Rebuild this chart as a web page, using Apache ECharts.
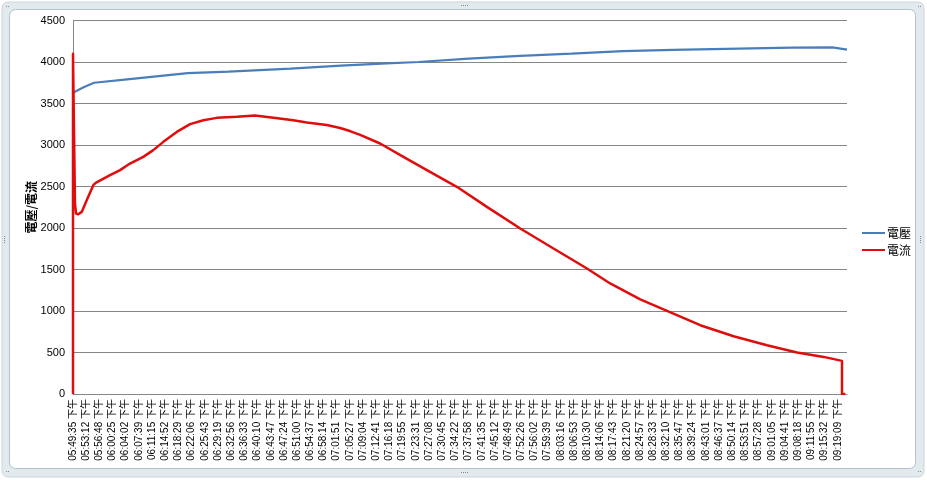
<!DOCTYPE html>
<html>
<head>
<meta charset="utf-8">
<script src="https://cdn.jsdelivr.net/npm/echarts@6/dist/echarts.min.js"></script>
<style>
html,body{margin:0;padding:0;background:#fff;}
#chart{width:927px;height:480px;}
</style>
</head>
<body>
<div id="chart"></div>
<script>
// Category tick labels (every labelled sample)
const timeLabels = [
  '05:49:35 下午','05:53:12 下午','05:56:48 下午','06:00:25 下午','06:04:02 下午','06:07:39 下午',
  '06:11:15 下午','06:14:52 下午','06:18:29 下午','06:22:06 下午','06:25:43 下午','06:29:19 下午',
  '06:32:56 下午','06:36:33 下午','06:40:10 下午','06:43:47 下午','06:47:24 下午','06:51:00 下午',
  '06:54:37 下午','06:58:14 下午','07:01:51 下午','07:05:27 下午','07:09:04 下午','07:12:41 下午',
  '07:16:18 下午','07:19:55 下午','07:23:31 下午','07:27:08 下午','07:30:45 下午','07:34:22 下午',
  '07:37:58 下午','07:41:35 下午','07:45:12 下午','07:48:49 下午','07:52:26 下午','07:56:02 下午',
  '07:59:39 下午','08:03:16 下午','08:06:53 下午','08:10:30 下午','08:14:06 下午','08:17:43 下午',
  '08:21:20 下午','08:24:57 下午','08:28:33 下午','08:32:10 下午','08:35:47 下午','08:39:24 下午',
  '08:43:01 下午','08:46:37 下午','08:50:14 下午','08:53:51 下午','08:57:28 下午','09:01:05 下午',
  '09:04:41 下午','09:08:18 下午','09:11:55 下午','09:15:32 下午','09:19:09 下午'
];

// 電壓 (voltage): position in label units, value
const voltagePos  = [0, 0.8, 1.6, 4.1, 8.7, 11.8, 16.5, 20.3, 23.4, 26.2, 30.0, 33.9, 37.8, 41.7, 45.5, 49.5, 54.5, 57.6, 58.7];
const voltageVals = [3630, 3695, 3750, 3790, 3865, 3885, 3920, 3955, 3980, 4000, 4040, 4075, 4100, 4130, 4145, 4158, 4172, 4175, 4150];

// 電流 (current): position in label units, value
const currentPos  = [0, 0, 0.15, 0.23, 0.4, 0.66, 1.04, 1.54, 1.72, 2.81, 3.57, 4.32, 5.33, 6.09, 6.85, 7.87, 8.88, 9.89, 10.9, 12.42, 13.81, 15.2, 16.71, 17.73, 19.25, 20.26, 21.0, 21.78, 23.29, 25.06, 26.84, 29.11, 31.39, 33.92, 36.44, 38.98, 40.74, 43.02, 45.05, 47.57, 50.1, 52.63, 54.91, 56.93, 58.32, 58.32, 58.57];
const currentVals = [0, 4100, 2295, 2175, 2166, 2194, 2335, 2516, 2544, 2636, 2697, 2777, 2857, 2938, 3038, 3158, 3251, 3299, 3327, 3339, 3356, 3327, 3299, 3272, 3240, 3205, 3168, 3122, 3018, 2857, 2697, 2496, 2255, 1994, 1753, 1512, 1332, 1139, 1001, 829, 696, 588, 500, 447, 399, 0, 0];

const seriesNames = ['電壓', '電流'];
const yTicks = { min: 0, max: 4500, step: 500 };

const pair = (xs, ys) => xs.map((x, i) => [x, ys[i]]);

const chart = echarts.init(document.getElementById('chart'), null, { renderer: 'canvas' });

const frameGraphics = [
  { type: 'rect', z: -10, shape: { x: 2, y: 2, width: 922, height: 475, r: 6 },
    style: { fill: '#e2eaee', stroke: '#c9d5dc', lineWidth: 1 } },
  { type: 'rect', z: -9, shape: { x: 9.5, y: 9.5, width: 906, height: 459, r: 6 },
    style: { fill: '#ffffff', stroke: '#b3c3cd', lineWidth: 1 } }
];
// small grip dots
const grips = [[461, 5, 'h'], [461, 472, 'h'], [4, 236, 'v'], [920, 236, 'v'], [6, 6, 'c'], [918, 6, 'c'], [918, 471, 'c'], [6, 471, 'c']];
grips.forEach(g => {
  const n = g[2] === 'c' ? 2 : 4;
  for (let i = 0; i < n; i++) {
    const dx = g[2] === 'v' ? 0 : i * 2;
    const dy = g[2] === 'v' ? i * 2 : 0;
    frameGraphics.push({ type: 'rect', z: -8, shape: { x: g[0] + dx, y: g[1] + dy, width: 1, height: 1 }, style: { fill: '#7f8d96' } });
  }
});

const option = {
  animation: false,
  backgroundColor: '#ffffff',
  graphic: frameGraphics,
  grid: { left: 73, right: 80, top: 20.5, bottom: 86, containLabel: false },
  legend: {
    orient: 'vertical',
    left: 857,
    top: 222,
    itemWidth: 23,
    itemHeight: 12,
    itemGap: 5,
    icon: 'path://M0,5 L23,5 L23,7 L0,7 Z',
    textStyle: { fontFamily: 'Noto Sans CJK TC', fontSize: 12, color: '#000', padding: [0, 0, 0, -3] },
    data: seriesNames
  },
  xAxis: {
    type: 'value',
    min: 0,
    max: 58.7,
    interval: 1,
    axisLine: { show: true, lineStyle: { color: '#868686', width: 1 } },
    axisTick: { show: false },
    splitLine: { show: false },
    axisLabel: {
      rotate: 90,
      margin: 5,
      fontFamily: 'Liberation Sans, "Noto Sans CJK TC"',
      fontSize: 10,
      color: '#000',
      showMaxLabel: false,
      formatter: v => (Number.isInteger(v) && timeLabels[v]) ? timeLabels[v] : ''
    }
  },
  yAxis: {
    type: 'value',
    min: yTicks.min,
    max: yTicks.max,
    interval: yTicks.step,
    name: '電壓/電流',
    nameLocation: 'middle',
    nameGap: 36,
    nameMoveOverlap: false,
    nameTextStyle: { fontFamily: 'Noto Sans CJK TC', fontSize: 12, fontWeight: 'bold', color: '#000' },
    axisLine: { show: true, lineStyle: { color: '#868686', width: 1 } },
    axisTick: { show: false },
    splitLine: { show: true, lineStyle: { color: '#868686', width: 1 } },
    axisLabel: { margin: 8, fontFamily: 'Liberation Sans', fontSize: 11, color: '#000', formatter: v => String(v) }
  },
  series: [
    {
      name: seriesNames[0],
      type: 'line',
      data: pair(voltagePos, voltageVals),
      symbol: 'none',
      smooth: false,
      color: '#4a7ebb',
      lineStyle: { color: '#4a7ebb', width: 2.25 },
      z: 3
    },
    {
      name: seriesNames[1],
      type: 'line',
      data: pair(currentPos, currentVals),
      symbol: 'none',
      smooth: false,
      color: '#e00d0d',
      lineStyle: { color: '#e00d0d', width: 2.5, join: 'round' },
      z: 4
    }
  ]
};
chart.setOption(option);
</script>
</body>
</html>
